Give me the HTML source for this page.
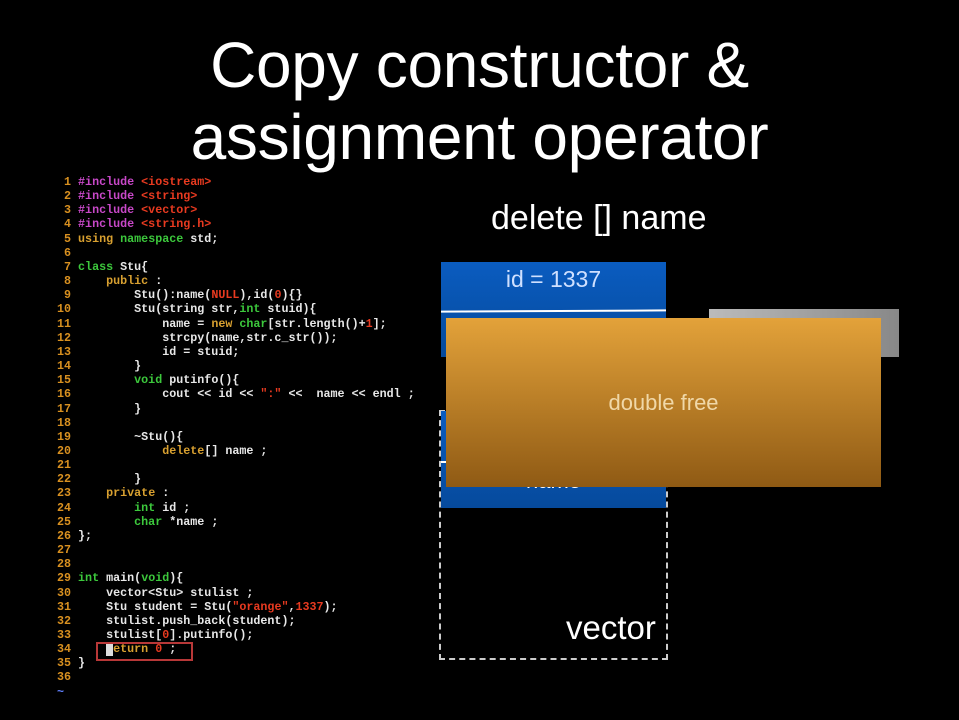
<!DOCTYPE html>
<html><head><meta charset="utf-8"><style>
html,body{margin:0;padding:0;background:#000;}
body{width:959px;height:720px;position:relative;overflow:hidden;font-family:"Liberation Sans",sans-serif;color:#fff;}
.t{position:absolute;left:0;width:959px;text-align:center;font-size:64px;font-weight:normal;letter-spacing:-0.3px;}
pre{position:absolute;left:57px;top:175px;margin:0;font-family:"Liberation Mono",monospace;font-weight:bold;font-size:11.7px;line-height:14.15px;color:#e8e8e8;}
.n{color:#d89020;}
.p{color:#c848c8;}
.s{color:#e83a20;}
.k{color:#3cc83c;}
.o{color:#d8a030;}
.abs{position:absolute;}
</style></head><body>
<div class="t" style="top:28px;">Copy constructor &amp;</div>
<div class="t" style="top:100px;">assignment operator</div>
<div class="abs" style="left:491px;top:199px;font-size:34px;">delete [] name</div>

<pre><span class="n"> 1</span> <span class="p">#include</span> <span class="s">&lt;iostream&gt;</span>
<span class="n"> 2</span> <span class="p">#include</span> <span class="s">&lt;string&gt;</span>
<span class="n"> 3</span> <span class="p">#include</span> <span class="s">&lt;vector&gt;</span>
<span class="n"> 4</span> <span class="p">#include</span> <span class="s">&lt;string.h&gt;</span>
<span class="n"> 5</span> <span class="o">using</span> <span class="k">namespace</span> std;
<span class="n"> 6</span>
<span class="n"> 7</span> <span class="k">class</span> Stu{
<span class="n"> 8</span>     <span class="o">public</span> :
<span class="n"> 9</span>         Stu():name(<span class="s">NULL</span>),id(<span class="s">0</span>){}
<span class="n">10</span>         Stu(string str,<span class="k">int</span> stuid){
<span class="n">11</span>             name = <span class="o">new</span> <span class="k">char</span>[str.length()+<span class="s">1</span>];
<span class="n">12</span>             strcpy(name,str.c_str());
<span class="n">13</span>             id = stuid;
<span class="n">14</span>         }
<span class="n">15</span>         <span class="k">void</span> putinfo(){
<span class="n">16</span>             cout &lt;&lt; id &lt;&lt; <span class="s">":"</span> &lt;&lt;  name &lt;&lt; endl ;
<span class="n">17</span>         }
<span class="n">18</span>
<span class="n">19</span>         ~Stu(){
<span class="n">20</span>             <span class="o">delete</span>[] name ;
<span class="n">21</span>
<span class="n">22</span>         }
<span class="n">23</span>     <span class="o">private</span> :
<span class="n">24</span>         <span class="k">int</span> id ;
<span class="n">25</span>         <span class="k">char</span> *name ;
<span class="n">26</span> };
<span class="n">27</span>
<span class="n">28</span>
<span class="n">29</span> <span class="k">int</span> main(<span class="k">void</span>){
<span class="n">30</span>     vector&lt;Stu&gt; stulist ;
<span class="n">31</span>     Stu student = Stu(<span class="s">"orange"</span>,<span class="s">1337</span>);
<span class="n">32</span>     stulist.push_back(student);
<span class="n">33</span>     stulist[<span class="s">0</span>].putinfo();
<span class="n">34</span>     <span style="background:#ddd;color:#ddd;">r</span><span class="o">eturn</span> <span class="s">0</span> ;
<span class="n">35</span> }
<span class="n">36</span>
<span style="color:#6080ff;">~</span></pre>
<div class="abs" style="left:96px;top:642px;width:93px;height:15px;border:2px solid #b83838;"></div>

<div class="abs" style="left:439px;top:410px;width:225px;height:246px;border:2px dashed #ccc;"></div>
<div class="abs" style="left:566px;top:609px;font-size:33px;">vector</div>

<div class="abs" style="left:441px;top:411px;width:225px;height:97px;background:linear-gradient(#0a5cc0,#064a9c);"></div>
<div class="abs" style="left:441px;top:461px;width:225px;height:2px;background:#fff;"></div>
<div class="abs" style="left:441px;top:468px;width:225px;text-align:center;font-size:22px;">name</div>

<div class="abs" style="left:441px;top:262px;width:225px;height:95px;background:linear-gradient(#0a5cc0,#064a9c);"></div>
<div class="abs" style="left:441px;top:310px;width:225px;height:2px;background:#fff;transform:rotate(-0.3deg);"></div>
<div class="abs" style="left:441px;top:266px;width:225px;text-align:center;font-size:23px;color:#cfe0ff;">id = 1337</div>

<div class="abs" style="left:709px;top:309px;width:190px;height:48px;background:linear-gradient(90deg,#bbb,#888);"></div>

<div class="abs" style="left:446px;top:318px;width:435px;height:169px;background:linear-gradient(#e3a23a,#8f5a14);"></div>
<div class="abs" style="left:446px;top:390px;width:435px;text-align:center;font-size:22px;color:#f0d8a8;">double free</div>
</body></html>
